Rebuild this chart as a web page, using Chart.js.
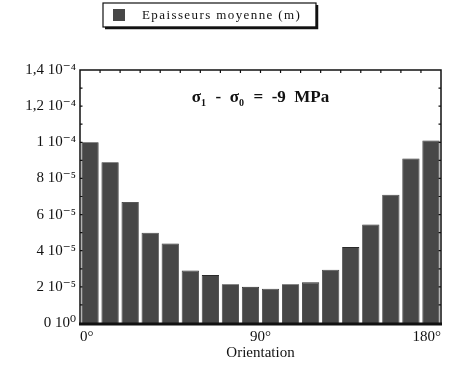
<!DOCTYPE html>
<html>
<head>
<meta charset="utf-8">
<script src="https://cdn.jsdelivr.net/npm/chart.js@4"></script>
<style>
html,body{margin:0;padding:0;background:#fff;}
#wrap{width:453px;height:372px;position:relative;}
</style>
</head>
<body>
<div id="wrap"><canvas id="c" width="453" height="372"></canvas></div>
<script>
// Data
const binCenters = [5,15,25,35,45,55,65,75,85,95,105,115,125,135,145,155,165,175];
const thickness = [1.00e-4,0.89e-4,0.67e-4,0.50e-4,0.44e-4,0.29e-4,0.265e-4,0.215e-4,0.20e-4,0.19e-4,0.215e-4,0.225e-4,0.295e-4,0.42e-4,0.545e-4,0.71e-4,0.91e-4,1.01e-4];
const seriesLabel = "Epaisseurs moyenne (m)";
const xTickValues = [0,90,180];
const yTickValues = [0,2e-5,4e-5,6e-5,8e-5,1e-4,1.2e-4,1.4e-4];
const yTickLabels = ["0 10\u2070","2 10\u207B\u2075","4 10\u207B\u2075","6 10\u207B\u2075","8 10\u207B\u2075","1 10\u207B\u2074","1,2 10\u207B\u2074","1,4 10\u207B\u2074"];
const xTitle = "Orientation";
const annotation = ["\u03C3","1","  -  ","\u03C3","0","  =  -9  MPa"];

const serif = "'Liberation Serif','DejaVu Serif',serif";
const barColor = '#474747';

const framePlugin = {
  id:'frame',
  afterDraw(chart){
    const ctx = chart.ctx, a = chart.chartArea;
    const xs = chart.scales.x, ys = chart.scales.y;
    ctx.save();
    ctx.strokeStyle = '#111';
    ctx.lineWidth = 1.5;
    ctx.beginPath();
    ctx.moveTo(a.left, a.bottom); ctx.lineTo(a.left, a.top); ctx.lineTo(a.right, a.top); ctx.lineTo(a.right, a.bottom);
    ctx.stroke();
    ctx.lineWidth = 3;
    ctx.beginPath(); ctx.moveTo(a.left-1, a.bottom+1); ctx.lineTo(a.right+1, a.bottom+1); ctx.stroke();
    ctx.lineWidth = 1.2;
    ctx.beginPath();
    for (let v = 10; v < 180; v += 10) {
      const px = xs.getPixelForValue(v);
      ctx.moveTo(px, a.top); ctx.lineTo(px, a.top+3);
    }
    for (let v = 1e-5; v < 1.4e-4; v += 1e-5) {
      const py = ys.getPixelForValue(v);
      ctx.moveTo(a.left, py); ctx.lineTo(a.left+2.5, py);
      ctx.moveTo(a.right, py); ctx.lineTo(a.right-2.5, py);
    }
    ctx.stroke();
    // annotation
    const ax = xs.getPixelForValue(90), ay = ys.getPixelForValue(1.25e-4);
    ctx.fillStyle = '#111';
    ctx.textBaseline = 'alphabetic';
    const big = "bold 17px " + serif, small = "bold 10px " + serif;
    const parts = [[annotation[0],big,0],[annotation[1],small,4],[annotation[2],big,0],[annotation[3],big,0],[annotation[4],small,4],[annotation[5],big,0]];
    let w = 0;
    parts.forEach(p=>{ctx.font=p[1]; w += ctx.measureText(p[0]).width + (p[1]===small?1:0);});
    let x = ax - w/2;
    parts.forEach(p=>{ctx.font=p[1]; ctx.fillText(p[0], x, ay + 5 + p[2]); x += ctx.measureText(p[0]).width + (p[1]===small?1:0);});
    // legend box
    const lx = 103, ly = 3, lw = 213, lh = 24;
    ctx.fillStyle = '#fff';
    ctx.fillRect(lx, ly, lw, lh);
    ctx.lineWidth = 1.2; ctx.strokeStyle = '#111';
    ctx.strokeRect(lx, ly, lw, lh);
    ctx.lineWidth = 2.5;
    ctx.beginPath(); ctx.moveTo(lx+2, ly+lh+1); ctx.lineTo(lx+lw+1, ly+lh+1); ctx.lineTo(lx+lw+1, ly+2); ctx.stroke();
    ctx.fillStyle = barColor;
    ctx.fillRect(lx+10, ly+6, 12, 12);
    ctx.fillStyle = '#111';
    ctx.font = "13px " + serif;
    ctx.letterSpacing = '1.4px';
    ctx.textBaseline = 'middle';
    ctx.fillText(chart.data.datasets[0].label, lx+39, ly+lh/2+1);
    ctx.restore();
  }
};

new Chart(document.getElementById('c'), {
  type:'bar',
  data:{
    datasets:[{
      label: seriesLabel,
      data: binCenters.map((c,i)=>({x:c,y:thickness[i]})),
      backgroundColor: barColor,
      borderColor: '#2a2a2a',
      borderWidth: 0.8,
      barPercentage: 0.86,
      categoryPercentage: 1.0
    }]
  },
  options:{
    responsive:false,
    animation:false,
    devicePixelRatio:1,
    layout:{padding:{top:70,right:12,bottom:10,left:10}},
    plugins:{legend:{display:false},tooltip:{enabled:false}},
    scales:{
      x:{
        type:'linear', min:0, max:180, offset:false,
        afterBuildTicks(s){ s.ticks = xTickValues.map(v=>({value:v})); },
        ticks:{color:'#111',font:{family:serif,size:15},padding:5,maxRotation:0,autoSkip:false,align:'inner',
          callback:(v)=>v+'\u00B0'},
        grid:{display:false,drawTicks:false},
        border:{display:false},
        title:{display:true,text:xTitle,color:'#111',font:{family:serif,size:15},padding:{top:-7,bottom:0}}
      },
      y:{
        min:0,max:1.4e-4,
        afterBuildTicks(s){ s.ticks = yTickValues.map(v=>({value:v})); },
        afterFit(s){ s.width = 70; },
        ticks:{color:'#111',font:{family:serif,size:15},padding:4,autoSkip:false,
          callback:(v,i)=>yTickLabels[i]},
        grid:{display:false,drawTicks:false},
        border:{display:false}
      }
    }
  },
  plugins:[framePlugin]
});
</script>
</body>
</html>
